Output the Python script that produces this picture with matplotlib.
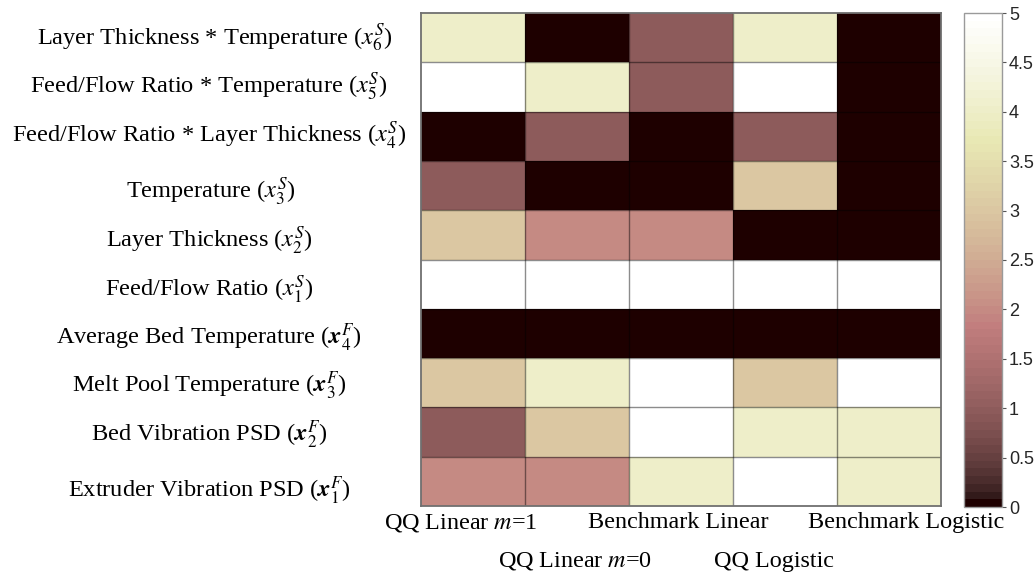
import numpy as np
import matplotlib
matplotlib.use("Agg")
import matplotlib.pyplot as plt

# Feature labels (top to bottom) and method labels (left to right)
features = [
    r"Layer Thickness * Temperature ($x_6^S$)",
    r"Feed/Flow Ratio * Temperature ($x_5^S$)",
    r"Feed/Flow Ratio * Layer Thickness ($x_4^S$)",
    r"Temperature ($x_3^S$)",
    r"Layer Thickness ($x_2^S$)",
    r"Feed/Flow Ratio ($x_1^S$)",
    r"Average Bed Temperature ($\mathbfit{x}_4^F$)",
    r"Melt Pool Temperature ($\mathbfit{x}_3^F$)",
    r"Bed Vibration PSD ($\mathbfit{x}_2^F$)",
    r"Extruder Vibration PSD ($\mathbfit{x}_1^F$)",
]
methods = [
    r"QQ Linear $m$=1",
    r"QQ Linear $m$=0",
    "Benchmark Linear",
    "QQ Logistic",
    "Benchmark Logistic",
]

# Score of each feature (rows) under each method (columns)
scores = np.array([
    [4, 0, 1, 4, 0],
    [5, 4, 1, 5, 0],
    [0, 1, 0, 1, 0],
    [1, 0, 0, 3, 0],
    [3, 2, 2, 0, 0],
    [5, 5, 5, 5, 5],
    [0, 0, 0, 0, 0],
    [3, 4, 5, 3, 5],
    [1, 3, 5, 4, 4],
    [2, 2, 4, 5, 4],
])
cbar_ticks = [0, 0.5, 1, 1.5, 2, 2.5, 3, 3.5, 4, 4.5, 5]
cbar_tick_labels = ["0", "0.5", "1", "1.5", "2", "2.5", "3", "3.5", "4", "4.5", "5"]

# Layout (pixels in a 1036 x 572 canvas)
W, H = 1036, 572
feature_label_cx = [215, 209, 209, 211, 209, 209, 209, 209, 209, 209]
feature_label_baseline = [45, 94, 143, 199, 248, 297, 345, 393, 442, 498]
method_label_cx = [461, 575, 678, 774, 906]
method_label_baseline = [528, 567, 528, 567, 528]

plt.rcParams["font.family"] = ["Liberation Serif", "DejaVu Serif"]
plt.rcParams["mathtext.fontset"] = "stix"

fig = plt.figure(figsize=(W / 100, H / 100), dpi=100)
fig.patch.set_facecolor("white")

ax = fig.add_axes([421 / W, 1 - 506 / H, 520 / W, 493 / H])
cmap = matplotlib.colormaps["pink"].resampled(64)
n_rows, n_cols = scores.shape
mesh = ax.pcolormesh(np.arange(n_cols + 1), np.arange(n_rows + 1), scores,
                     cmap=cmap, vmin=0, vmax=5)
ax.set_xlim(0, n_cols)
ax.set_ylim(n_rows, 0)
ax.set_xticks([])
ax.set_yticks([])

# cell borders
ax.hlines(np.arange(1, n_rows), 0, n_cols, colors=[(0, 0, 0, 0.45)], linewidth=1)
ax.vlines(np.arange(1, n_cols), 0, n_rows, colors=[(0, 0, 0, 0.45)], linewidth=1)
for sp in ax.spines.values():
    sp.set_edgecolor("#707070")
    sp.set_linewidth(1.3)

for label, cx, base in zip(features, feature_label_cx, feature_label_baseline):
    fig.text(cx / W, 1 - base / H, label, ha="center",
             va="baseline", fontsize=17.6, color="black")

for label, cx, base in zip(methods, method_label_cx, method_label_baseline):
    fig.text(cx / W, 1 - base / H, label, ha="center", va="baseline",
             fontsize=17.4, color="black")

# colorbar
cax = fig.add_axes([964 / W, 1 - 507 / H, 38 / W, 494 / H])
cb = fig.colorbar(mesh, cax=cax)
cb.outline.set_edgecolor("#9a9a9a")
cb.outline.set_linewidth(1.0)
cax.set_yticks(cbar_ticks)
cax.set_yticklabels(cbar_tick_labels, fontsize=13,
                    fontfamily="Liberation Sans", color="#262626")
cax.tick_params(direction="out", length=3, width=0.8, color="#555555", pad=2)

fig.savefig("out.png", dpi=100, facecolor="white")
